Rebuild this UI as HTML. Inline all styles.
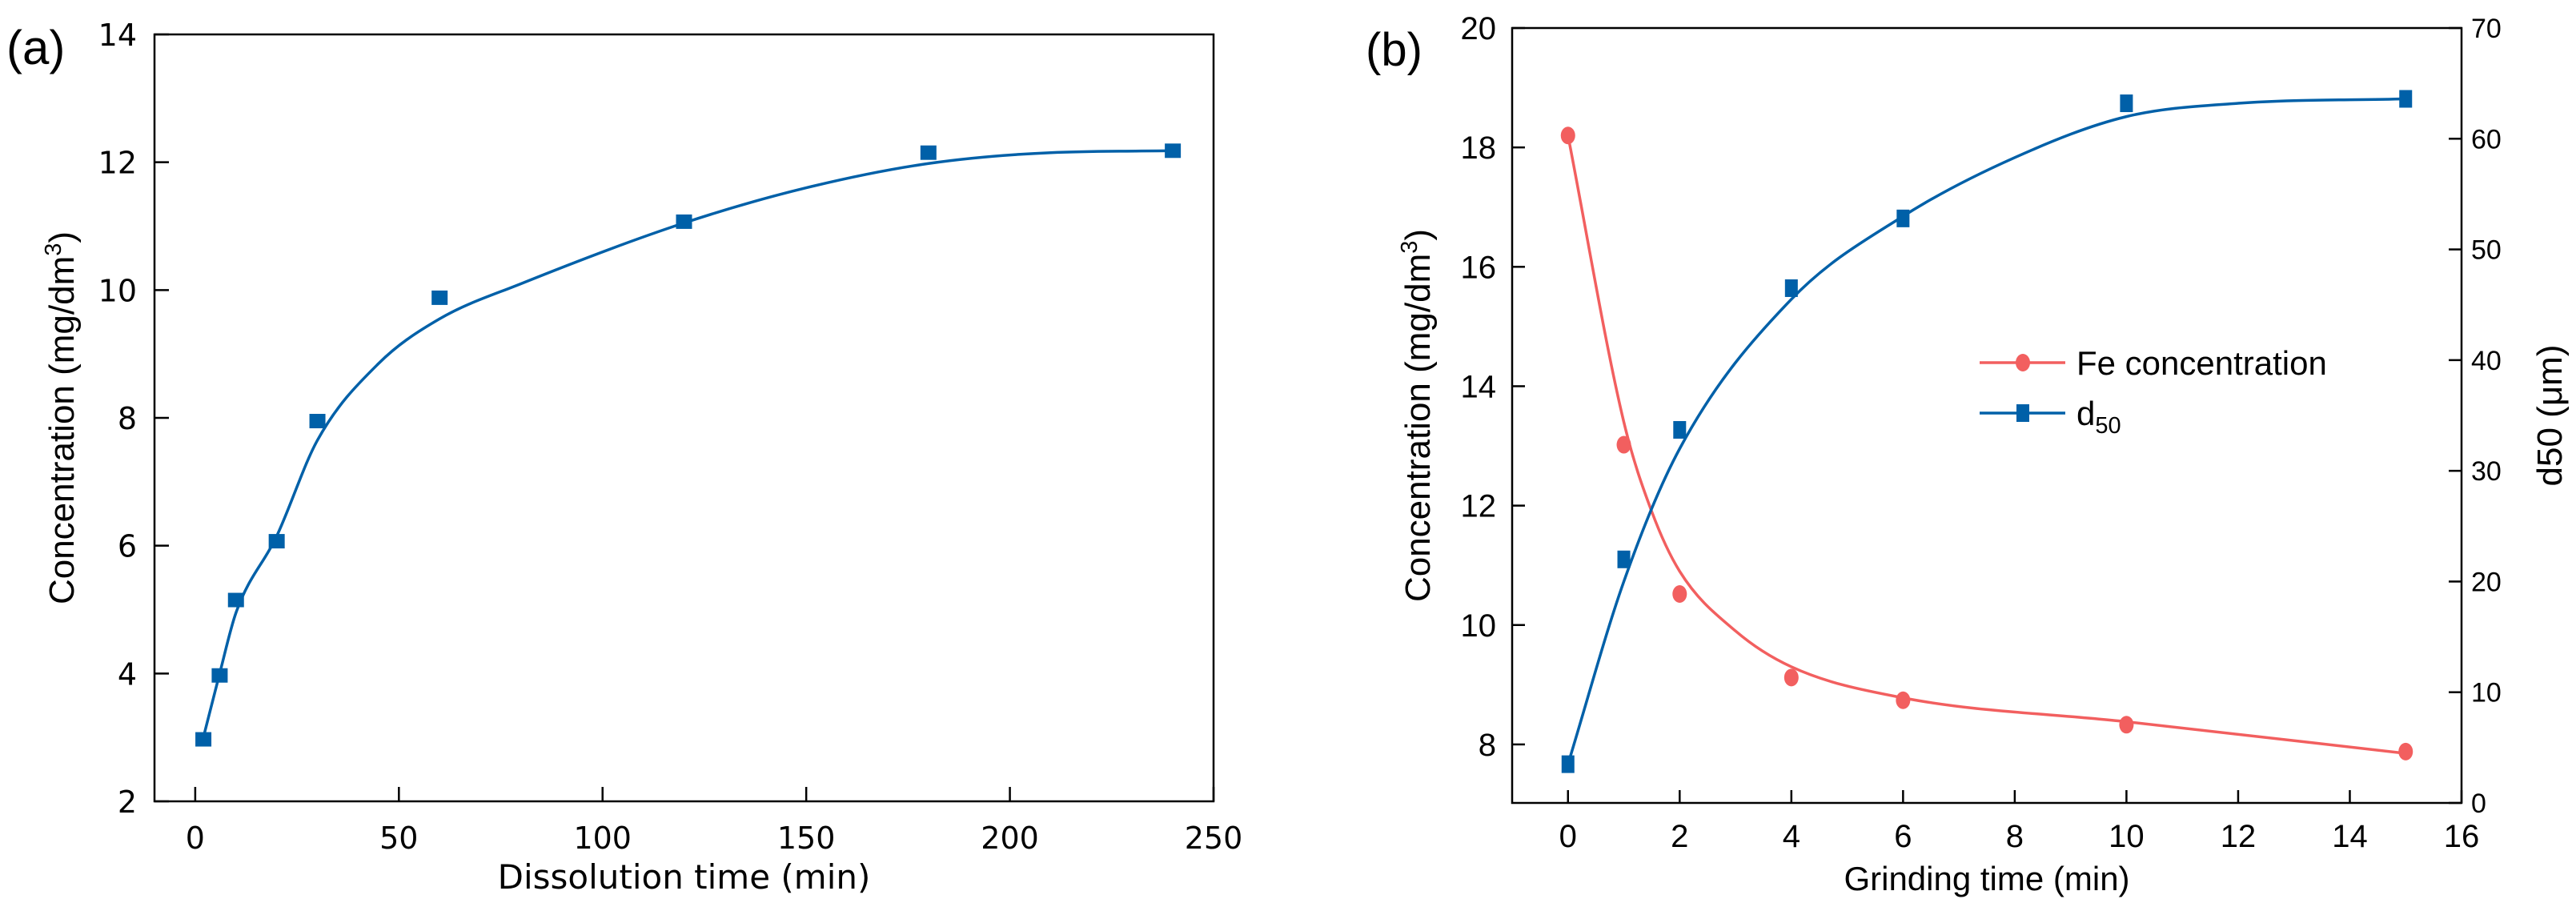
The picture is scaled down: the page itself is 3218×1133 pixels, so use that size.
<!DOCTYPE html>
<html><head><meta charset="utf-8"><style>
html,body{margin:0;padding:0;background:#fff;}
svg{display:block;font-family:"Liberation Sans",Arial,sans-serif;}
</style></head><body>
<svg id="c" width="3218" height="1133" viewBox="0 0 3218 1133" xmlns="http://www.w3.org/2000/svg"></svg>
<script>
// Panel (a) data
const aX = [2, 6, 10, 20, 30, 60, 120, 180, 240];
const aY = [2.97, 3.97, 5.15, 6.07, 7.95, 9.88, 11.07, 12.15, 12.18];
// fitted curve (a)
const aFitX = [2, 6, 10, 20, 30, 45, 60, 80, 120, 150, 180, 210, 240];
const aFitY = [3.0, 4.0, 4.95, 6.15, 7.65, 8.85, 9.55, 10.1, 11.05, 11.6, 11.98, 12.15, 12.18];
const aXTicks = [0, 50, 100, 150, 200, 250];
const aYTicks = [2, 4, 6, 8, 10, 12, 14];
// Panel (b) data
const bX = [0, 1, 2, 4, 6, 10, 15];
const feY = [18.2, 13.02, 10.52, 9.12, 8.74, 8.33, 7.88];
const d50Y = [3.5, 22, 33.7, 46.5, 52.8, 63.2, 63.6];
// fitted curves (b)
const feFitX = [0, 1, 1.5, 2, 3, 4, 6, 10, 15];
const feFitY = [18.2, 13.4, 11.9, 10.9, 9.9, 9.3, 8.78, 8.38, 7.85];
const d50FitX = [0, 1, 2, 4, 6, 8, 10, 12, 15];
const d50FitY = [3.5, 20, 32, 45.5, 53, 58.3, 62, 63.2, 63.6];
const bXTicks = [0, 2, 4, 6, 8, 10, 12, 14, 16];
const bYTicks = [8, 10, 12, 14, 16, 18, 20];
const bY2Ticks = [0, 10, 20, 30, 40, 50, 60, 70];

const NS = "http://www.w3.org/2000/svg";
const svg = document.getElementById('c');
function mk(tag, attrs, parent, text){
  const e = document.createElementNS(NS, tag);
  for (const k in attrs) e.setAttribute(k, attrs[k]);
  if (text !== undefined) e.textContent = text;
  (parent || svg).appendChild(e);
  return e;
}
function lin(d0, d1, r0, r1){ return v => r0 + (v - d0) / (d1 - d0) * (r1 - r0); }
function smooth(xs, ys){
  const n = xs.length, m = [], d = [];
  for (let i=0;i<n-1;i++) d.push((ys[i+1]-ys[i])/(xs[i+1]-xs[i]));
  m[0]=d[0]; m[n-1]=d[n-2];
  for (let i=1;i<n-1;i++){ m[i] = d[i-1]*d[i] <= 0 ? 0 : (d[i-1]+d[i])/2; }
  for (let i=0;i<n-1;i++){ if(d[i]===0){m[i]=m[i+1]=0;continue;} const a=m[i]/d[i], b=m[i+1]/d[i], s=a*a+b*b; if(s>9){const t=3/Math.sqrt(s); m[i]=t*a*d[i]; m[i+1]=t*b*d[i];} }
  let p = `M${xs[0]},${ys[0]}`;
  for (let i=0;i<n-1;i++){
    const h=(xs[i+1]-xs[i])/3;
    p += ` C${xs[i]+h},${ys[i]+m[i]*h} ${xs[i+1]-h},${ys[i+1]-m[i+1]*h} ${xs[i+1]},${ys[i+1]}`;
  }
  return p;
}
const BLUE = '#0060a8', RED = '#f25f5f';

// ---------- Panel A ----------
const aL=193, aR=1516, aT=43, aB=1001;
const ax = lin(-10, 250, aL, aR), ay = lin(2, 14, aB, aT);
const gA = mk('g', {});  
const fa = mk('rect',{x:aL,y:aT,width:aR-aL,height:aB-aT,fill:'none',stroke:'#000','stroke-width':2.5},gA);
 
aXTicks.forEach(v=>{
  const l = mk('line',{x1:ax(v),x2:ax(v),y1:aB,y2:aB-18,stroke:'#000','stroke-width':2.5},gA);
   
  const t = mk('text',{x:ax(v),y:aB+59,'font-size':38,'text-anchor':'middle','font-family':'DejaVu Sans, sans-serif'},gA,String(v));
   
});
aYTicks.forEach(v=>{
  const l = mk('line',{x1:aL,x2:aL+18,y1:ay(v),y2:ay(v),stroke:'#000','stroke-width':2.5},gA);
   
  const t = mk('text',{x:aL-22,y:ay(v)+14,'font-size':38,'text-anchor':'end','font-family':'DejaVu Sans, sans-serif'},gA,String(v));
   
});
const xta = mk('text',{x:(aL+aR)/2,y:1110,'font-size':42,'text-anchor':'middle','font-family':'DejaVu Sans, sans-serif'},gA,'Dissolution time (min)');
 
const yta = mk('text',{x:0,y:0,'font-size':44,'text-anchor':'middle',transform:`translate(92,${(aT+aB)/2}) rotate(-90)`},gA);
 
yta.innerHTML = 'Concentration (mg/dm<tspan dy="-16" font-size="29">3</tspan><tspan dy="16">)</tspan>';
const la = mk('text',{x:8,y:80,'font-size':60},gA,'(a)');
 
const ca = mk('path',{d:smooth(aFitX.map(ax),aFitY.map(ay)),fill:'none',stroke:BLUE,'stroke-width':3.5},gA);
 
aX.forEach((v,i)=>{
  const r = mk('rect',{x:ax(v)-10,y:ay(aY[i])-9,width:20,height:18,fill:BLUE},gA);
   
});

// ---------- Panel B ----------
const bL=1889, bR=3075, bT=35, bB=1003;
const bx = lin(-1, 16, bL, bR), by = lin(7.02, 20, bB, bT), by2 = lin(0, 70, bB, bT);
const gB = mk('g', {});  
const fb = mk('rect',{x:bL,y:bT,width:bR-bL,height:bB-bT,fill:'none',stroke:'#000','stroke-width':2.5},gB);
 
bXTicks.forEach(v=>{
  const l = mk('line',{x1:bx(v),x2:bx(v),y1:bB,y2:bB-16,stroke:'#000','stroke-width':2.5},gB);
   
  const t = mk('text',{x:bx(v),y:bB+55,'font-size':40,'text-anchor':'middle'},gB,String(v));
   
});
bYTicks.forEach(v=>{
  const l = mk('line',{x1:bL,x2:bL+16,y1:by(v),y2:by(v),stroke:'#000','stroke-width':2.5},gB);
   
  const t = mk('text',{x:bL-20,y:by(v)+14,'font-size':40,'text-anchor':'end'},gB,String(v));
   
});
bY2Ticks.forEach(v=>{
  const l = mk('line',{x1:bR,x2:bR-16,y1:by2(v),y2:by2(v),stroke:'#000','stroke-width':2.5},gB);
   
  const t = mk('text',{x:bR+12,y:by2(v)+12,'font-size':34,'text-anchor':'start'},gB,String(v));
   
});
const xtb = mk('text',{x:(bL+bR)/2,y:1112,'font-size':42,'text-anchor':'middle'},gB,'Grinding time (min)');
 
const ytb = mk('text',{x:0,y:0,'font-size':44,'text-anchor':'middle',transform:`translate(1786,${(bT+bB)/2}) rotate(-90)`},gB);
 
ytb.innerHTML = 'Concentration (mg/dm<tspan dy="-16" font-size="29">3</tspan><tspan dy="16">)</tspan>';
const y2tb = mk('text',{x:0,y:0,'font-size':44,'text-anchor':'middle',transform:`translate(3200,${(bT+bB)/2}) rotate(-90)`},gB,'d50 (μm)');
 
const lb = mk('text',{x:1706,y:82,'font-size':58},gB,'(b)');
 

const cfe = mk('path',{d:smooth(feFitX.map(bx),feFitY.map(by)),fill:'none',stroke:RED,'stroke-width':3.5},gB);
 
const cd = mk('path',{d:smooth(d50FitX.map(bx),d50FitY.map(by2)),fill:'none',stroke:BLUE,'stroke-width':3.5},gB);
 
bX.forEach((v,i)=>{
  const c = mk('ellipse',{cx:bx(v),cy:by(feY[i]),rx:9,ry:11,fill:RED},gB);
   
  const r = mk('rect',{x:bx(v)-8,y:by2(d50Y[i])-11,width:16,height:22,fill:BLUE},gB);
   
});
const lg = mk('g',{},gB);  
const e1 = mk('g',{},lg);  
mk('line',{x1:2473,x2:2580,y1:453,y2:453,stroke:RED,'stroke-width':3.5},e1);
mk('ellipse',{cx:2527,cy:453,rx:9,ry:11,fill:RED},e1);
mk('text',{x:2594,y:468,'font-size':42},e1,'Fe concentration');
const e2 = mk('g',{},lg);  
mk('line',{x1:2473,x2:2580,y1:516,y2:516,stroke:BLUE,'stroke-width':3.5},e2);
mk('rect',{x:2519,y:505,width:16,height:22,fill:BLUE},e2);
const t2 = mk('text',{x:2594,y:531,'font-size':42},e2);
t2.innerHTML = 'd<tspan dy="10" font-size="29">50</tspan>';
</script>
</body></html>
